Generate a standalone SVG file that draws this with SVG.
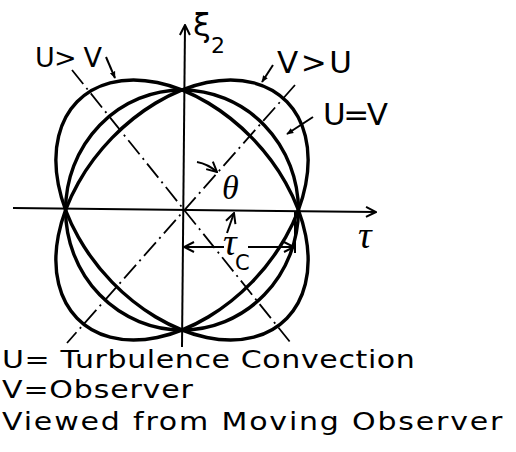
<svg xmlns="http://www.w3.org/2000/svg" width="516" height="452" viewBox="0 0 516 452">
<style>
.curve{fill:none;stroke:#000;stroke-width:3.5}
.axis{fill:none;stroke:#000;stroke-width:2}
.diag{fill:none;stroke:#000;stroke-width:1.8;stroke-dasharray:18 5 2 5}
.lead{fill:none;stroke:#000;stroke-width:2}
.lbl{font-family:"DejaVu Sans","Liberation Sans",sans-serif;fill:#000}
.grk{font-family:"Liberation Serif","DejaVu Serif",serif;font-style:italic;fill:#000}
</style>
<defs>
<marker id="fa" viewBox="0 0 10 10" refX="9" refY="5" markerWidth="7" markerHeight="7" markerUnits="userSpaceOnUse" orient="auto">
<path d="M0,1 L10,5 L0,9 Z" fill="#000"/>
</marker>
<marker id="oa" viewBox="0 0 12 12" refX="11" refY="6" markerWidth="12" markerHeight="12" markerUnits="userSpaceOnUse" orient="auto">
<path d="M1,1 L11,6 L1,11" fill="none" stroke="#000" stroke-width="2"/>
</marker>
</defs>
<rect width="516" height="452" fill="#fff"/>
<g id="axes">
<path class="axis" d="M182,347 L185,25" marker-end="url(#oa)"/>
<path class="axis" d="M13,208 L376,212" marker-end="url(#oa)"/>
</g>
<g id="diagonals">
<path class="diag" d="M72,70 L290,342"/>
<path class="diag" d="M295,85 L67,343"/>
</g>
<g id="curves" transform="translate(182,210) scale(0.97,1)">
<g id="curve-UeqV"><circle class="curve" cx="0" cy="0" r="120"/></g>
<g id="curve-UgtV"><ellipse class="curve" cx="0" cy="0" rx="153" ry="102" transform="rotate(45)"/></g>
<g id="curve-VgtU"><ellipse class="curve" cx="0" cy="0" rx="153" ry="102" transform="rotate(-45)"/></g>
</g>
<g id="connectors">
<path class="lead" d="M106,57 L115,78" marker-end="url(#fa)"/>
<path class="lead" d="M273,65 L262,82" marker-end="url(#fa)"/>
<path class="lead" d="M313,117 L287,134" marker-end="url(#fa)"/>
<path class="lead" d="M197,162 Q208,164 217,172" marker-end="url(#oa)"/>
<path class="lead" d="M227,233 L234,213" marker-end="url(#oa)"/>
<path class="lead" d="M224,247 L184,247" marker-end="url(#oa)"/>
<path class="lead" d="M248,247 L294,247" marker-end="url(#oa)"/>
<path class="lead" d="M295,212 L295,253"/>
</g>
<g id="labels">
<text class="lbl" x="193" y="36" font-size="32">ξ</text>
<text class="lbl" x="211" y="53" font-size="22">2</text>
<text class="lbl" x="35" y="67" font-size="27" textLength="67" lengthAdjust="spacing">U&gt; V</text>
<text class="lbl" x="277" y="73" font-size="31" textLength="75" lengthAdjust="spacing">V &gt; U</text>
<text class="lbl" x="323" y="125" font-size="31" textLength="65" lengthAdjust="spacing">U=V</text>
<text class="grk" x="222" y="199" font-size="34">θ</text>
<text class="grk" x="358" y="248" font-size="38">τ</text>
<text class="grk" x="223" y="255" font-size="38">τ</text>
<text class="lbl" x="235" y="270" font-size="21">C</text>
<g transform="scale(1.2,1)">
<text class="lbl" x="1.7" y="368" font-size="25" textLength="344" lengthAdjust="spacing">U= Turbulence Convection</text>
<text class="lbl" x="1.7" y="398" font-size="25" textLength="159" lengthAdjust="spacing">V=Observer</text>
<text class="lbl" x="1.7" y="430" font-size="25" textLength="417" lengthAdjust="spacing">Viewed from Moving Observer</text>
</g>
</g>
</svg>
